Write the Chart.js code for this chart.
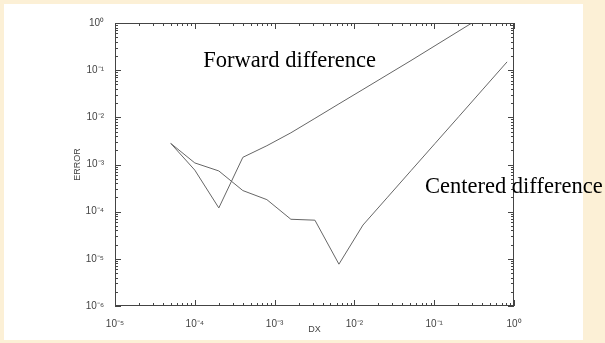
<!DOCTYPE html>
<html>
<head>
<meta charset="utf-8">
<script src="https://cdn.jsdelivr.net/npm/chart.js@4.4.1/dist/chart.umd.min.js"></script>
<style>
  html, body { margin: 0; padding: 0; }
  body { width: 605px; height: 343px; background: #fcf0d6; position: relative; overflow: hidden; }
  #panel { position: absolute; left: 4px; top: 4px; width: 579px; height: 336px; background: #fff; }
  #chart { position: absolute; left: 0; top: 0; }
</style>
</head>
<body>
<div id="panel"></div>
<canvas id="chart" width="605" height="343"></canvas>
<script>
// pas DX (doublement)
const dx = [5e-5, 1e-4, 2e-4, 4e-4, 8e-4, 1.6e-3, 3.2e-3, 6.4e-3, 1.28e-2, 2.56e-2, 5.12e-2, 0.1024, 0.2048, 0.4096, 0.8192];
// erreurs
const forwardErr = [2.8e-3, 7.6e-4, 1.2e-4, 1.42e-3, 2.5e-3, 4.7e-3, 9.5e-3, 1.93e-2, 3.9e-2, 7.9e-2, 0.16, 0.33, 0.68, 1.4, 2.8];
const centeredErr = [2.8e-3, 1.08e-3, 7.3e-4, 2.8e-4, 1.8e-4, 6.9e-5, 6.6e-5, 7.7e-6, 5.2e-5, 1.96e-4, 7.4e-4, 2.79e-3, 1.05e-2, 3.97e-2, 0.15];

// étiquettes de courbes (position en coordonnées données)
const labelTexts = ['Forward difference', 'Centered difference'];
const labelX = [1.28e-4, 0.0767];
const labelY = [0.1186, 2.45e-4];

// bornes des axes (exposants)
const xExp = [-5, 0];
const yExp = [-6, 0];

const SUP = { '0': '⁰', '1': '¹', '2': '²', '3': '³', '4': '⁴', '5': '⁵', '6': '⁶', '7': '⁷', '8': '⁸', '9': '⁹', '-': '⁻' };

function isDecade(v) {
    const l = Math.log10(v);
    return Math.abs(l - Math.round(l)) < 1e-9;
}

function decadeLabel(v) {
    if (!isDecade(v)) return '';
    const e = String(Math.round(Math.log10(v)));
    return '10' + e.split('').map(c => SUP[c]).join('');
}

function logTicks(lo, hi) {
    const out = [];
    for (let e = lo; e < hi; e++) {
        for (let m = 1; m < 10; m++) out.push({ value: m * Math.pow(10, e) });
    }
    out.push({ value: Math.pow(10, hi) });
    return out;
}

// Cadre IDL : axes sur les 4 côtés, graduations vers l'intérieur
const axisFrame = {
    id: 'axisFrame',
    afterDatasetsDraw(chart) {
        const { ctx, chartArea: a, scales: { x, y } } = chart;
        ctx.save();
        ctx.strokeStyle = '#444';
        ctx.lineWidth = 1;
        ctx.strokeRect(a.left + 0.5, a.top + 0.5, a.right - a.left - 1, a.bottom - a.top - 1);
        ctx.beginPath();
        x.ticks.forEach(t => {
            const px = Math.round(x.getPixelForValue(t.value)) + 0.5;
            const len = isDecade(t.value) ? 6 : 3;
            ctx.moveTo(px, a.bottom); ctx.lineTo(px, a.bottom - len);
            ctx.moveTo(px, a.top); ctx.lineTo(px, a.top + len);
        });
        y.ticks.forEach(t => {
            const py = Math.round(y.getPixelForValue(t.value)) + 0.5;
            const len = isDecade(t.value) ? 6 : 3;
            ctx.moveTo(a.left, py); ctx.lineTo(a.left + len, py);
            ctx.moveTo(a.right, py); ctx.lineTo(a.right - len, py);
        });
        ctx.stroke();
        ctx.restore();
    },
    afterDraw(chart) {
        const { ctx, scales: { x, y } } = chart;
        ctx.save();
        ctx.fillStyle = '#000';
        ctx.font = '22.5px "Liberation Serif", "Times New Roman", serif';
        ctx.textBaseline = 'alphabetic';
        labelTexts.forEach((txt, i) => {
            ctx.fillText(txt, x.getPixelForValue(labelX[i]), y.getPixelForValue(labelY[i]));
        });
        ctx.restore();
    }
};

const tickFont = { family: 'Liberation Sans, Arial, sans-serif', size: 10 };

new Chart(document.getElementById('chart'), {
    type: 'line',
    data: {
        datasets: [{
            label: 'Forward difference',
            data: dx.map((v, i) => ({ x: v, y: forwardErr[i] })),
            borderColor: '#666',
            borderWidth: 1,
            pointRadius: 0,
            tension: 0
        }, {
            label: 'Centered difference',
            data: dx.map((v, i) => ({ x: v, y: centeredErr[i] })),
            borderColor: '#666',
            borderWidth: 1,
            pointRadius: 0,
            tension: 0
        }]
    },
    options: {
        responsive: false,
        animation: false,
        devicePixelRatio: 1,
        layout: { padding: { left: 0, top: 23, right: 91, bottom: 0 } },
        plugins: { legend: { display: false }, tooltip: { enabled: false } },
        scales: {
            x: {
                type: 'logarithmic',
                min: Math.pow(10, xExp[0]),
                max: Math.pow(10, xExp[1]),
                grid: { display: false },
                border: { display: false },
                afterBuildTicks: s => { s.ticks = logTicks(xExp[0], xExp[1]); },
                afterFit: s => { s.height = 37; },
                ticks: {
                    autoSkip: false,
                    maxRotation: 0,
                    padding: 4,
                    color: '#444',
                    font: tickFont,
                    callback: v => decadeLabel(v)
                },
                title: {
                    display: true,
                    text: 'DX',
                    color: '#444',
                    font: { family: 'Liberation Sans, Arial, sans-serif', size: 9 },
                    padding: { top: 0, bottom: 8 }
                }
            },
            y: {
                type: 'logarithmic',
                min: Math.pow(10, yExp[0]),
                max: Math.pow(10, yExp[1]),
                grid: { display: false },
                border: { display: false },
                afterBuildTicks: s => { s.ticks = logTicks(yExp[0], yExp[1]); },
                afterFit: s => { s.width = 115; },
                ticks: {
                    autoSkip: false,
                    padding: 3,
                    color: '#444',
                    font: tickFont,
                    callback: v => decadeLabel(v)
                },
                title: {
                    display: true,
                    text: 'ERROR',
                    color: '#444',
                    font: { family: 'Liberation Sans, Arial, sans-serif', size: 9 },
                    padding: { top: 72, bottom: 0 }
                }
            }
        }
    },
    plugins: [axisFrame]
});
</script>
</body>
</html>
